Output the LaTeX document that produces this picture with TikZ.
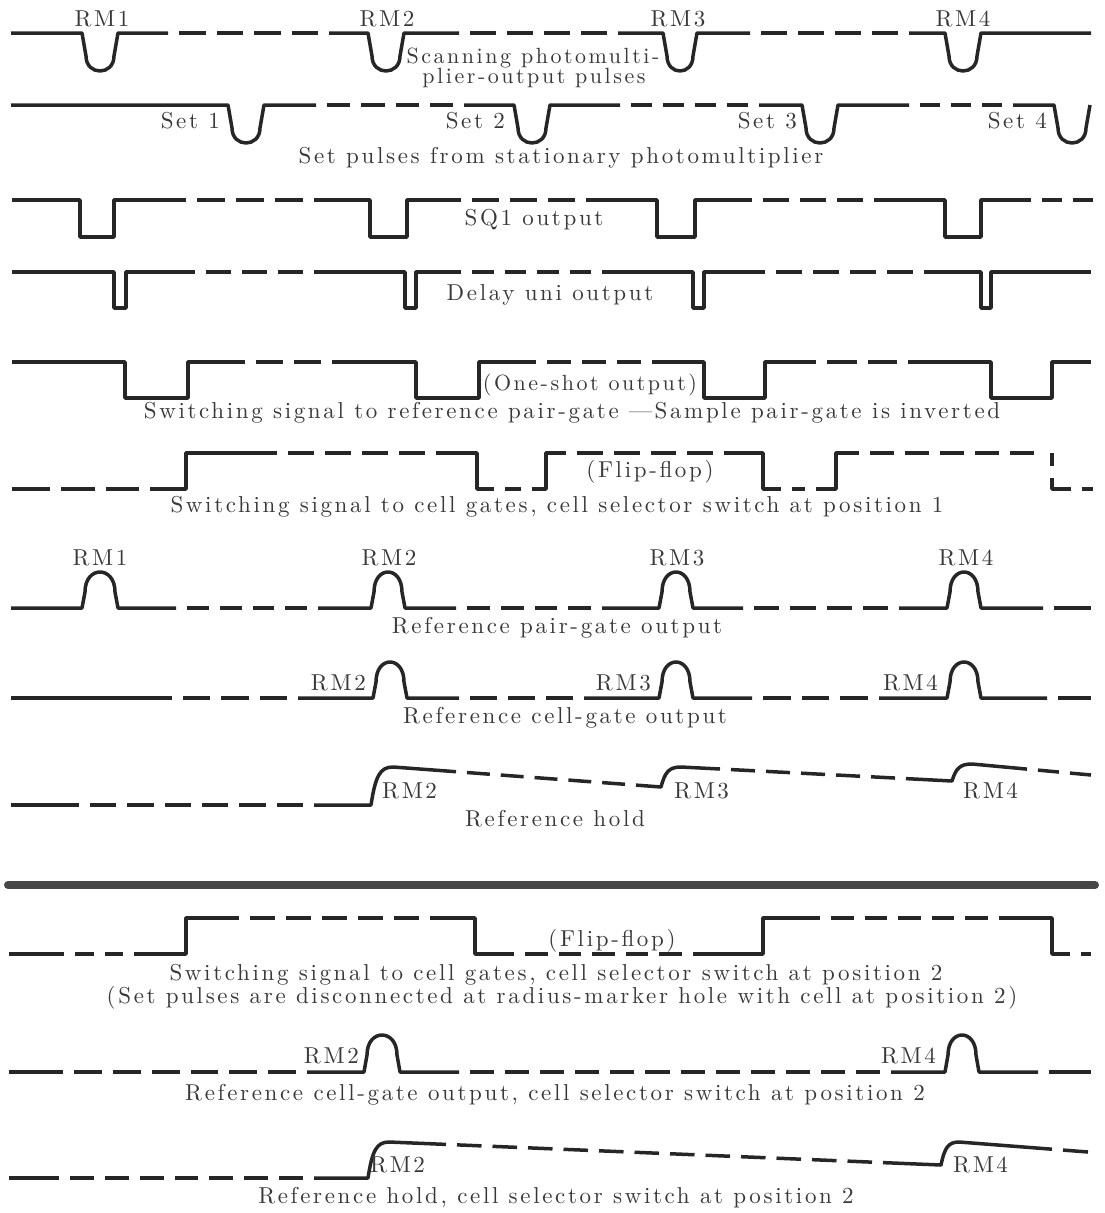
\documentclass[tikz,border=0pt]{standalone}
\usepackage{fontspec}
\newfontfamily\capfam{lmroman10-regular}[Extension=.otf,LetterSpace=11.5]
\newcommand\capfont{\capfam\fontsize{23}{23}\selectfont}
\newcommand\capfontsm{\capfam\fontsize{22}{22}\selectfont}
% down U pulse: x0 x1 base bottom
\newcommand\PDn[4]{-- ({#1+4},{#4-15}) .. controls ({#1+4},{#4+5}) and ({#2-4},{#4+5}) .. ({#2-4},{#4-15}) -- (#2,#3)}
% up arch pulse: x0 x1 base peak
\newcommand\PUp[4]{-- ({#1+3},{#4+20}) .. controls ({#1+3},{#4-20/3}) and ({#2-3},{#4-20/3}) .. ({#2-3},{#4+20}) -- (#2,#3)}
% rectangular pulse: x0 x1 base low
\newcommand\PRect[4]{-- (#1,#4) -- (#2,#4) -- (#2,#3)}
% rise: xr yb xt yt
\newcommand\PRise[4]{-- (#1,#2) .. controls ({#1+0.2*(#3-#1)},{#2-0.75*(#2-#4)}) and ({#1+0.4*(#3-#1)},#4) .. (#3,#4)}
\newcommand\DashSeg[4]{%
  \pgfmathsetmacro\dsL{veclen((#3)-(#1),(#4)-(#2))}%
  \pgfmathsetmacro\dsN{max(1,round((\dsL-11)/36))}%
  \pgfmathsetmacro\dsOn{(\dsL-(\dsN+1)*11)/\dsN}%
  \draw[sig,dash pattern=on \dsOn pt off 11pt,dash phase=\dsOn pt] (#1,#2) -- (#3,#4);}
\newcommand\DashEnd[4]{%
  \pgfmathsetmacro\dsL{veclen((#3)-(#1),(#4)-(#2))}%
  \pgfmathsetmacro\dsN{max(1,round(\dsL/36))}%
  \pgfmathsetmacro\dsOn{\dsL/\dsN-11}%
  \draw[sig,dash pattern=on \dsOn pt off 11pt,dash phase=\dsOn pt] (#1,#2) -- (#3,#4);}
\begin{document}
\begin{tikzpicture}[x=1pt,y=-1pt,
  sig/.style={line width=3.5pt,line join=round,draw=black!85},
  txt/.style={font=\capfont,text=black!78,inner sep=0pt,anchor=base},
  txtw/.style={txt,anchor=base west},
  txte/.style={txt,anchor=base east}]
\useasboundingbox (0,0) rectangle (1105,1213);

% ---------- Row 1: scanning photomultiplier
\draw[sig] (11,33) -- (82,33) \PDn{82}{118}{33}{71} -- (168,33);
\DashSeg{168}{33}{329}{33}
\draw[sig] (329,33) -- (368,33) \PDn{368}{404}{33}{71} -- (459,33);
\DashSeg{459}{33}{618}{33}
\draw[sig] (618,33) -- (663,33) \PDn{663}{697}{33}{71} -- (750,33);
\DashSeg{750}{33}{909}{33}
\draw[sig] (909,33) -- (945,33) \PDn{945}{981}{33}{71} -- (1091,33);
\node[txt] (a1) at (102,26) {RM1};
\node[txt] (a2) at (387,26) {RM2};
\node[txt] (a3) at (678,26) {RM3};
\node[txt] (a4) at (963,26) {RM4};
\node[txt,font=\capfontsm] (ca1) at (533,63) {Scanning photomulti-};
\node[txt,font=\capfontsm] (ca2) at (534,83) {plier-output pulses};

% ---------- Row 2: set pulses
\draw[sig] (11,105) -- (228,105) \PDn{228}{264}{105}{143} -- (316,105);
\DashSeg{316}{105}{464}{105}
\draw[sig] (464,105) -- (514,105) \PDn{514}{550}{105}{143} -- (620,105);
\DashSeg{620}{105}{759}{105}
\draw[sig] (759,105) -- (802,105) \PDn{802}{838}{105}{143} -- (909,105);
\DashSeg{909}{105}{1013}{105}
\draw[sig] (1013,105) -- (1054,105) \PDn{1054}{1090}{105}{143};
\node[txte] (s1) at (220,128) {Set 1};
\node[txte] (s2) at (505,128) {Set 2};
\node[txte] (s3) at (797,128) {Set 3};
\node[txte] (s4) at (1047,128) {Set 4};
\node[txt] (cb) at (561,163) {Set pulses from stationary photomultiplier};

% ---------- Row 3: SQ1 output
\draw[sig] (12,200) -- (80,200) \PRect{80}{114}{200}{237} -- (186,200);
\DashSeg{186}{200}{314}{200}
\draw[sig] (314,200) -- (370,200) \PRect{370}{407}{200}{237} -- (461,200);
\DashSeg{461}{200}{586}{200}
\draw[sig] (586,200) -- (657,200) \PRect{657}{695}{200}{237} -- (752,200);
\DashSeg{752}{200}{874}{200}
\draw[sig] (874,200) -- (945,200) \PRect{945}{981}{200}{237} -- (1031,200);
\DashEnd{1031}{200}{1093}{200}
\node[txt] (cc) at (534,225) {SQ1 output};

% ---------- Row 4: delay uni output
\draw[sig] (12,272) -- (114,272) \PRect{114}{126}{272}{308} -- (195,272);
\DashSeg{195}{272}{314}{272}
\draw[sig] (314,272) -- (405,272) \PRect{405}{416}{272}{308} -- (461,272);
\DashSeg{461}{272}{602}{272}
\draw[sig] (602,272) -- (693,272) \PRect{693}{704}{272}{308} -- (765,272);
\DashSeg{765}{272}{924}{272}
\draw[sig] (924,272) -- (981,272) \PRect{981}{991}{272}{308} -- (1091,272);
\node[txt] (cd) at (550,300) {Delay uni output};

% ---------- Row 5: one-shot output
\draw[sig] (12,362) -- (125,362) \PRect{125}{188}{362}{398} -- (245,362);
\DashSeg{245}{362}{332}{362}
\draw[sig] (332,362) -- (416,362) \PRect{416}{479}{362}{398} -- (536,362);
\DashSeg{536}{362}{652}{362}
\draw[sig] (652,362) -- (704,362) \PRect{704}{765}{362}{398} -- (816,362);
\DashSeg{816}{362}{908}{362}
\draw[sig] (908,362) -- (991,362) \PRect{991}{1052}{362}{398} -- (1091,362);
\node[txt,font=\capfontsm] (ce1) at (590,390) {(One-shot output)};
\node[txt] (ce2) at (572,418) {Switching signal to reference pair-gate —Sample pair-gate is inverted};

% ---------- Row 6: flip-flop, position 1
\draw[sig] (12,489) -- (50,489);
\DashSeg{50}{489}{150}{489}
\draw[sig] (150,489) -- (186,489) -- (186,453) -- (277,453);
\DashSeg{277}{453}{436}{453}
\draw[sig] (436,453) -- (477,453) -- (477,489) -- (494,489);
\DashSeg{494}{489}{532}{489}
\draw[sig] (532,489) -- (546,489) -- (546,453) -- (566,453);
\DashSeg{566}{453}{724}{453}
\draw[sig] (724,453) -- (763,453) -- (763,489) -- (781,489);
\DashSeg{781}{489}{816}{489}
\draw[sig] (816,489) -- (836,489) -- (836,453) -- (859,453);
\DashSeg{859}{453}{1045}{453}
\draw[sig] (1052,453) -- (1052,466);
\draw[sig] (1052,478) -- (1052,489) -- (1071,489);
\DashEnd{1071}{489}{1093}{489}
\node[txt] (cf1) at (650,477) {(Flip-flop)};
\node[txt] (cf2) at (557,512) {Switching signal to cell gates, cell selector switch at position 1};

% ---------- Row 7: reference pair-gate output
\draw[sig] (11,608) -- (82,608) \PUp{82}{118}{608}{572} -- (176,608);
\DashSeg{176}{608}{318}{608}
\draw[sig] (318,608) -- (371,608) \PUp{371}{405}{608}{572} -- (456,608);
\DashSeg{456}{608}{602}{608}
\draw[sig] (602,608) -- (659,608) \PUp{659}{693}{608}{572} -- (743,608);
\DashSeg{743}{608}{899}{608}
\draw[sig] (899,608) -- (947,608) \PUp{947}{981}{608}{572} -- (1043,608);
\DashEnd{1043}{608}{1091}{608}
\node[txt] (g1) at (100,565) {RM1};
\node[txt] (g2) at (389,565) {RM2};
\node[txt] (g3) at (677,565) {RM3};
\node[txt] (g4) at (966,565) {RM4};
\node[txt] (cg) at (557,633) {Reference pair-gate output};

% ---------- Row 8: reference cell-gate output
\draw[sig] (11,698) -- (172,698);
\DashSeg{172}{698}{298}{698}
\draw[sig] (298,698) -- (373,698) \PUp{373}{407}{698}{662} -- (459,698);
\DashSeg{459}{698}{584}{698}
\draw[sig] (584,698) -- (659,698) \PUp{659}{693}{698}{662} -- (752,698);
\DashSeg{752}{698}{879}{698}
\draw[sig] (879,698) -- (947,698) \PUp{947}{981}{698}{662} -- (1047,698);
\DashEnd{1047}{698}{1091}{698}
\node[txte] (h2) at (366,690) {RM2};
\node[txte] (h3) at (651,690) {RM3};
\node[txte] (h4) at (938,690) {RM4};
\node[txt] (ch) at (565,723) {Reference cell-gate output};

% ---------- Row 9: reference hold
\draw[sig] (11,805) -- (79,805);
\DashSeg{79}{805}{314}{805}
\draw[sig] (314,805) -- (371,805) \PRise{371}{805}{393}{767} -- (456,771.7);
\DashSeg{456}{771.7}{636}{785.1}
\draw[sig] (636,785.1) -- (661,787) \PRise{661}{787}{681}{767} -- (720,769);
\DashSeg{720}{769}{906}{778.6}
\draw[sig] (906,778.6) -- (952,781) \PRise{952}{781}{972}{764} -- (1027,769.1);
\DashEnd{1027}{769.1}{1091}{775}
\node[txtw] (k2) at (382,798) {RM2};
\node[txtw] (k3) at (674,798) {RM3};
\node[txtw] (k4) at (963,798) {RM4};
\node[txt] (ck) at (555,826) {Reference hold};

% ---------- separator
\draw[line width=8pt,line cap=round,draw=black!72] (8,885) -- (1095,885);

% ---------- Row 10: flip-flop, position 2
\draw[sig] (9,954) -- (64,954);
\DashSeg{64}{954}{134}{954}
\draw[sig] (134,954) -- (186,954) -- (186,918) -- (239,918);
\DashSeg{239}{918}{430}{918}
\draw[sig] (430,918) -- (475,918) -- (475,954) -- (514,954);
\DashSeg{514}{954}{693}{954}
\draw[sig] (693,954) -- (763,954) -- (763,918) -- (820,918);
\DashSeg{820}{918}{999}{918}
\draw[sig] (999,918) -- (1052,918) -- (1052,954) -- (1070,954);
\DashEnd{1070}{954}{1091}{954}
\node[txt] (cm1) at (612,946) {(Flip-flop)};
\node[txt] (cm2) at (556,980) {Switching signal to cell gates, cell selector switch at position 2};
\node[txt] (cm3) at (562,1003) {(Set pulses are disconnected at radius-marker hole with cell at position 2)};

% ---------- Row 11: reference cell-gate output, position 2
\draw[sig] (9,1072) -- (63,1072);
\DashSeg{63}{1072}{307}{1072}
\draw[sig] (307,1072) -- (364,1072) \PUp{364}{400}{1072}{1035} -- (459,1072);
\DashSeg{459}{1072}{891}{1072}
\draw[sig] (891,1072) -- (945,1072) \PUp{945}{979}{1072}{1035} -- (1038,1072);
\DashEnd{1038}{1072}{1091}{1072}
\node[txte] (n2) at (359,1063) {RM2};
\node[txte] (n4) at (936,1063) {RM4};
\node[txt] (cn) at (555,1100) {Reference cell-gate output, cell selector switch at position 2};

% ---------- Row 12: reference hold, position 2
\draw[sig] (9,1178) -- (59,1178);
\DashSeg{59}{1178}{314}{1178}
\draw[sig] (314,1178) -- (368,1178) \PRise{368}{1178}{389}{1142} -- (446,1144.4);
\DashSeg{446}{1144.4}{883}{1162.6}
\draw[sig] (883,1162.6) -- (941,1165) \PRise{941}{1165}{959}{1142} -- (1052,1149.2);
\DashEnd{1052}{1149.2}{1088}{1152}
\node[txtw] (p2) at (370,1172) {RM2};
\node[txtw] (p4) at (953,1172) {RM4};
\node[txt] (cp) at (556,1203) {Reference hold, cell selector switch at position 2};
\end{tikzpicture}
\end{document}
